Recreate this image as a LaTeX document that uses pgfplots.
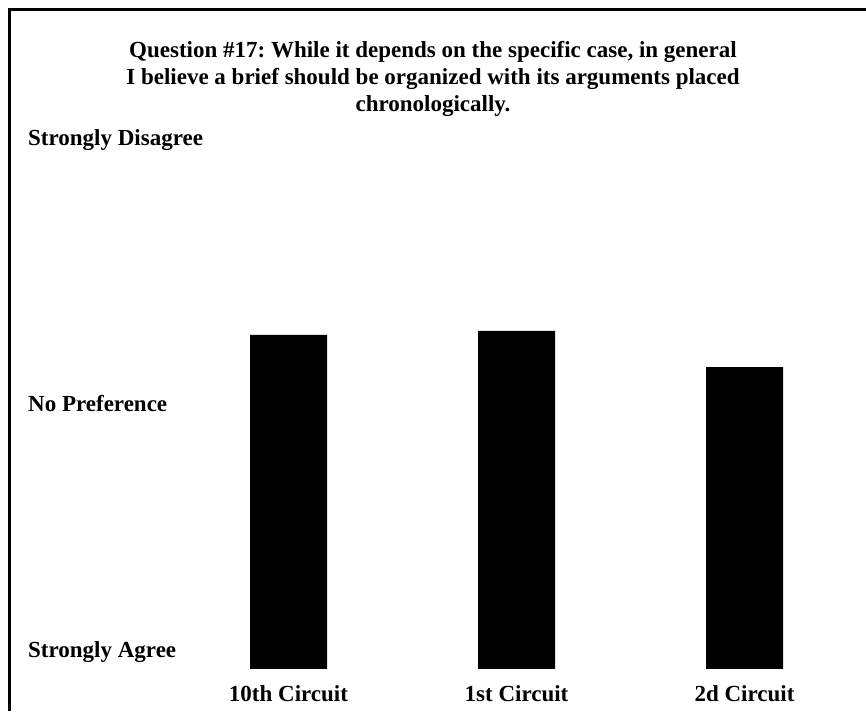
\documentclass[border=0pt]{standalone}
\usepackage{fontspec}
\setmainfont{Liberation Serif}
\usepackage{pgfplots}
\pgfplotsset{compat=1.18}
\frenchspacing
\begin{document}
\begin{tikzpicture}[x=1pt,y=1pt]
\useasboundingbox (0,0) rectangle (866,711);
\fill[white] (0,0) rectangle (866,711);
\draw[line width=3pt] (9.5,0) -- (9.5,701.5) -- (866,701.5);
\node[anchor=base, align=center, inner sep=0pt, font=\fontsize{23}{26.7}\selectfont\bfseries] at (433,599.6)
  {Question \#17: While it depends on the specific case, in general\\
   I believe a brief should be organized with its arguments placed\\
   chronologically.};
\begin{axis}[
  at={(174.5pt,42pt)}, anchor=south west,
  scale only axis, width=684pt, height=539pt,
  xmin=-0.5, xmax=2.5, ymin=1, ymax=5,
  axis line style={draw=none}, tick style={draw=none},
  ybar, bar width=77pt, bar shift=0pt,
  xtick={0,1,2},
  xticklabels={10th Circuit,1st Circuit,2d Circuit},
  ytick={1,3,5},
  yticklabels={\raisebox{11pt}{Strongly Agree},\raisebox{-12.5pt}{No Preference},\raisebox{-16pt}{Strongly Disagree}},
  ticklabel style={font=\fontsize{23}{27}\selectfont\bfseries, inner sep=0pt},
  yticklabel style={anchor=base west, xshift=-146.5pt},
  xticklabel style={anchor=base, yshift=-28.5pt},
  clip=true,
]
\addplot[fill=black, draw=none] coordinates {(0,3.48) (1,3.51) (2,3.24)};
\end{axis}
\end{tikzpicture}
\end{document}
